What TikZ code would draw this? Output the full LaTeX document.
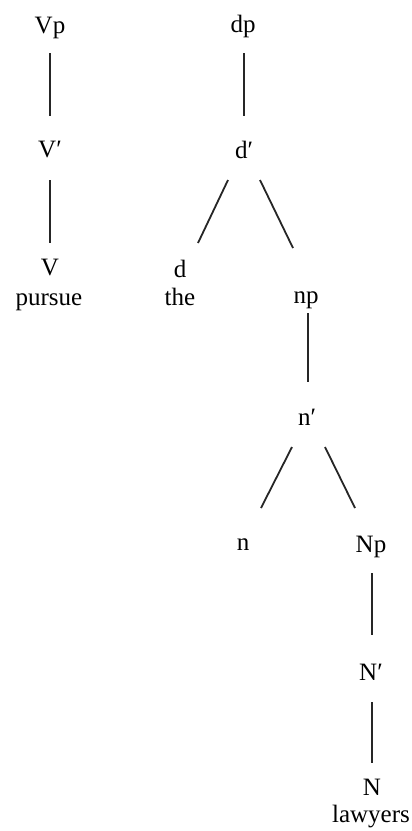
\documentclass[tikz,border=0pt]{standalone}
\usepackage{fontspec}
\setmainfont{Liberation Serif}
\usetikzlibrary{calc}
\tikzset{
  lbl/.style={anchor=base, inner sep=0pt, font=\fontsize{25}{27}\selectfont},
  branch/.style={line width=1.8pt, draw=black!85}
}
\begin{document}
\begin{tikzpicture}[x=1pt,y=-1pt]
\useasboundingbox (0,0) rectangle (412,831);
% left tree
\node[lbl] (Vp) at (50,33) {Vp};
\node[lbl] (Vbar) at (50,157) {V′};
\node[lbl] (V) at (50,275) {V};
\node[lbl] (pursue) at (49,305) {pursue};
% right tree
\node[lbl] (dp) at (243,32) {dp};
\node[lbl] (dbar) at (244,158) {d′};
\node[lbl] (d) at (180,277) {d};
\node[lbl] (the) at (180,305) {the};
\node[lbl] (np) at (306,303) {np};
\node[lbl] (nbar) at (307,425) {n′};
\node[lbl] (n) at (243,550) {n};
\node[lbl] (Np) at (371,552) {Np};
\node[lbl] (Nbar) at (371,680) {N′};
\node[lbl] (N) at (372,795) {N};
\node[lbl] (lawyers) at (371,822) {lawyers};
% branches
\draw[branch] ($(Vp.base)+(0,20)$) -- ($(Vbar.base)+(0,-41)$);
\draw[branch] ($(Vbar.base)+(0,23)$) -- ($(V.base)+(0,-32)$);
\draw[branch] ($(dp.base)+(1,21)$) -- ($(dbar.base)+(0,-42)$);
\draw[branch] ($(dbar.base)+(-16,22)$) -- ($(d.base)+(18,-34)$);
\draw[branch] ($(dbar.base)+(16,22)$) -- ($(np.base)+(-13,-55)$);
\draw[branch] ($(np.base)+(2,10)$) -- ($(nbar.base)+(1,-43)$);
\draw[branch] ($(nbar.base)+(-15,22)$) -- ($(n.base)+(18,-42)$);
\draw[branch] ($(nbar.base)+(18,22)$) -- ($(Np.base)+(-16,-44)$);
\draw[branch] ($(Np.base)+(1,21)$) -- ($(Nbar.base)+(1,-45)$);
\draw[branch] ($(Nbar.base)+(1,22)$) -- ($(N.base)+(0,-32)$);
\end{tikzpicture}
\end{document}
